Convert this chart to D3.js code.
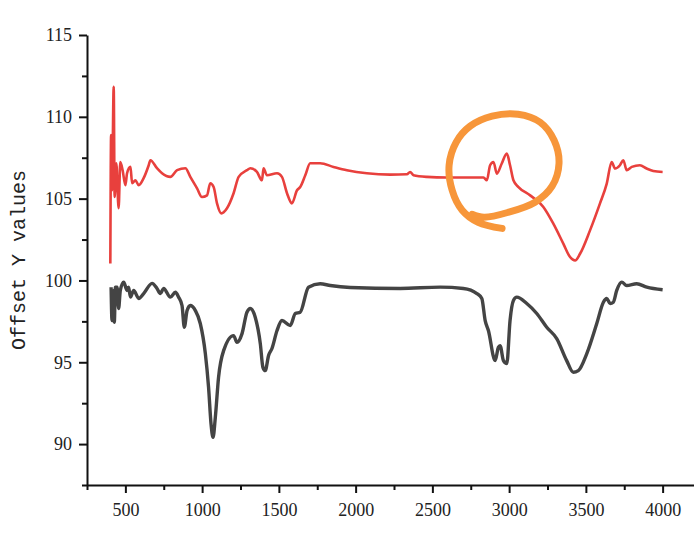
<!DOCTYPE html>
<html>
<head>
<meta charset="utf-8">
<script src="https://cdn.jsdelivr.net/npm/d3@7"></script>
<style>
  body { margin: 0; background: #fff; }
  svg { display: block; }
  .tick text { font-family: "Liberation Serif", serif; font-size: 18px; fill: #222; }
</style>
</head>
<body>
<svg width="694" height="534"></svg>
<script>
// lower trace (black)
let blackWn = [407, 413, 424, 428, 435, 446, 456, 467, 489, 511, 521, 533, 554, 587, 619, 674, 706, 728, 749, 793,
  826, 847, 869, 884, 902, 923, 956, 988, 1021, 1042, 1058, 1071, 1086, 1107, 1140, 1205, 1227, 1260, 1292, 1314,
  1346, 1379, 1396, 1411, 1433, 1455, 1488, 1520, 1574, 1607, 1639, 1693, 1769, 1835, 1965, 2290, 2551, 2702, 2790,
  2822, 2844, 2865, 2909, 2930, 2941, 2963, 2985, 3006, 3028, 3050, 3115, 3180, 3245, 3310, 3375, 3418, 3451, 3506,
  3571, 3614, 3636, 3658, 3679, 3701, 3734, 3766, 3831, 3897, 4000]
let blackVal = [99.59, 97.55, 99.39, 97.45, 99.59, 99.59, 98.29, 99.39, 99.90, 99.39, 99.59, 98.98, 99.39, 98.90, 99.20,
  99.82, 99.51, 99.20, 99.51, 98.98, 99.28, 98.98, 98.47, 97.14, 98.16, 98.47, 98.16, 97.37, 95.53, 93.47, 91.24,
  90.41, 91.63, 94.08, 95.71, 96.63, 96.22, 96.75, 98.06, 98.29, 97.75, 96.14, 94.69, 94.49, 95.41, 95.84, 96.94,
  97.55, 97.24, 97.98, 98.06, 99.59, 99.80, 99.69, 99.57, 99.51, 99.59, 99.51, 99.20, 98.90, 97.55, 96.94, 95.10,
  95.92, 96.02, 95.10, 94.92, 97.55, 98.78, 98.98, 98.59, 97.98, 97.14, 96.45, 95.10, 94.39, 94.49, 95.53, 97.37,
  98.67, 98.90, 98.59, 98.67, 99.39, 99.90, 99.69, 99.80, 99.59, 99.43]

// upper trace (red, offset)
let redWn = [402, 407, 413, 424, 430, 441, 456, 467, 482, 500, 511, 533, 544, 565, 587, 619, 652, 663, 706, 739, 793,
  837, 891, 923, 967, 999, 1032, 1053, 1075, 1097, 1125, 1162, 1205, 1238, 1292, 1314, 1357, 1390, 1400, 1422, 1488,
  1520, 1553, 1585, 1618, 1639, 1672, 1704, 1769, 1856, 1943, 2073, 2225, 2334, 2355, 2377, 2464, 2594, 2833, 2855,
  2876, 2898, 2920, 2952, 2985, 3006, 3028, 3061, 3137, 3223, 3288, 3353, 3397, 3430, 3462, 3527, 3592, 3636, 3668,
  3690, 3722, 3744, 3766, 3799, 3852, 3896, 3939, 4000]
let redVal = [101.04, 108.88, 105.51, 111.84, 105.10, 107.16, 104.41, 107.24, 106.74, 105.82, 106.55, 106.94, 105.94,
  106.12, 105.82, 106.25, 107.04, 107.35, 106.86, 106.55, 106.33, 106.74, 106.86, 106.33, 105.63, 105.10, 105.20,
  105.94, 105.71, 104.71, 104.10, 104.41, 105.33, 106.33, 106.74, 106.86, 106.63, 106.12, 106.86, 106.43, 106.55,
  106.33, 105.33, 104.71, 105.51, 105.71, 106.43, 107.16, 107.16, 106.94, 106.74, 106.55, 106.47, 106.49, 106.63,
  106.43, 106.33, 106.29, 106.29, 106.12, 107.04, 107.24, 106.53, 107.15, 107.76, 107.04, 106.12, 105.71, 105.20,
  104.49, 103.47, 102.25, 101.43, 101.22, 101.63, 103.06, 104.71, 105.92, 107.24, 106.84, 107.04, 107.35, 106.74,
  106.94, 107.04, 106.84, 106.69, 106.63]

// hand drawn orange circle, in data units
let markWn = [2954, 2798, 2694, 2629, 2609, 2655, 2746, 2889, 3058, 3202, 3293, 3325, 3280, 3169, 2993, 2837, 2759]
let markVal = [103.18, 103.55, 104.29, 105.51, 107.04, 108.45, 109.43, 110.04, 110.16, 109.67, 108.57, 107.16,
  105.76, 104.78, 104.16, 103.86, 104.04]

let xTicks = [500, 1000, 1500, 2000, 2500, 3000, 3500, 4000]
let yTicks = [90, 95, 100, 105, 110, 115]

let svg = d3.select("svg")

let x = d3.scaleLinear().domain([250, 4250]).range([87, 701])
let y = d3.scaleLinear().domain([87.5, 115]).range([485, 35])

let line = d3.line()
    .curve(d3.curveMonotoneX)
    .x(d => x(d[0]))
    .y(d => y(d[1]))

let markLine = d3.line()
    .curve(d3.curveCatmullRom)
    .x(d => x(d[0]))
    .y(d => y(d[1]))

let blackData = blackWn.map((w, i) => [w, blackVal[i]])
let redData = redWn.map((w, i) => [w, redVal[i]])
let markData = markWn.map((w, i) => [w, markVal[i]])

svg.append("path")
  .datum(blackData)
  .attr("d", line)
  .attr("fill", "none")
  .attr("stroke", "#444444")
  .attr("stroke-width", 3.4)
  .attr("stroke-linejoin", "round")

svg.append("path")
  .datum(redData)
  .attr("d", line)
  .attr("fill", "none")
  .attr("stroke", "#e8403d")
  .attr("stroke-width", 2.6)
  .attr("stroke-linejoin", "round")

svg.append("path")
  .datum(markData)
  .attr("d", markLine)
  .attr("fill", "none")
  .attr("stroke", "#f7963a")
  .attr("stroke-width", 7)
  .attr("stroke-linecap", "round")
  .attr("stroke-linejoin", "round")

// minor ticks
let xMinor = d3.range(250, 4300, 500)
let yMinor = d3.range(87.5, 115, 5)

svg.append("g")
  .attr("transform", "translate(0," + y(87.5) + ")")
  .call(d3.axisBottom(x).tickValues(xMinor).tickSize(5).tickFormat(""))
  .call(g => g.selectAll("line").attr("stroke", "#111").attr("stroke-width", 2))
  .call(g => g.select(".domain").remove())

svg.append("g")
  .attr("transform", "translate(" + x(250) + ",0)")
  .call(d3.axisLeft(y).tickValues(yMinor).tickSize(5).tickFormat(""))
  .call(g => g.selectAll("line").attr("stroke", "#111").attr("stroke-width", 2))
  .call(g => g.select(".domain").remove())

// x axis
svg.append("g")
  .attr("transform", "translate(0," + y(87.5) + ")")
  .call(d3.axisBottom(x).tickValues(xTicks).tickFormat(d3.format("d")).tickSize(8).tickSizeOuter(0).tickPadding(10))
  .call(g => g.select(".domain").attr("stroke", "#111").attr("stroke-width", 2))
  .call(g => g.selectAll(".tick line").attr("stroke", "#111").attr("stroke-width", 2))

// y axis
svg.append("g")
  .attr("transform", "translate(" + x(250) + ",0)")
  .call(d3.axisLeft(y).tickValues(yTicks).tickFormat(d3.format("d")).tickSize(8).tickSizeOuter(0).tickPadding(7))
  .call(g => g.select(".domain").attr("stroke", "#111").attr("stroke-width", 2))
  .call(g => g.selectAll(".tick line").attr("stroke", "#111").attr("stroke-width", 2))

svg.append("text")
  .attr("transform", "translate(25,260) rotate(-90)")
  .attr("text-anchor", "middle")
  .attr("font-family", "Liberation Mono, monospace")
  .attr("font-size", 20)
  .attr("fill", "#222")
  .text("Offset Y values")
</script>
</body>
</html>
